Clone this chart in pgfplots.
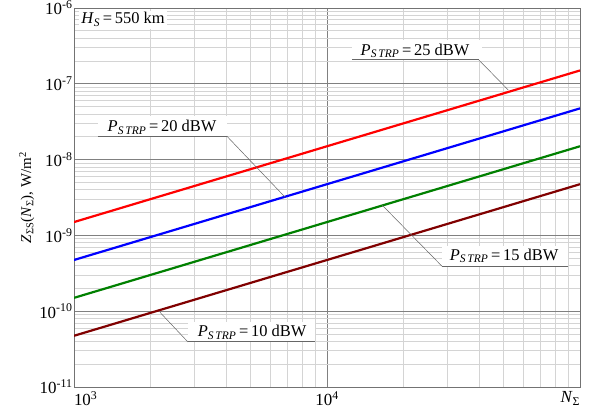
\documentclass[border=0pt]{standalone}
\usepackage{pgfplots}
\pgfplotsset{compat=1.18}
\usepackage{fontspec}
\setmainfont{Liberation Serif}
\definecolor{cred}{RGB}{255,0,0}
\definecolor{cblue}{RGB}{0,0,255}
\definecolor{cgreen}{RGB}{0,128,0}
\definecolor{cdred}{RGB}{128,0,0}
\newcommand{\PS}{\textit{P}\textsubscript{\textit{S\,TRP}}\,=\,}
\begin{document}
\begin{tikzpicture}
\begin{axis}[
  at={(0,0)}, anchor=south west,
  scale only axis, width=506bp, height=379bp,
  xmode=log, ymode=log,
  xmin=1e3, xmax=1e5, ymin=1e-11, ymax=1e-6,
  xtick={1e3,1e4,1e5},
  xticklabels={\makebox[0pt][l]{10\textsuperscript{3}},10\textsuperscript{4},\makebox[0pt][r]{\textit{N}\textsubscript{Σ}}},
  ytick={1e-11,1e-10,1e-9,1e-8,1e-7,1e-6},
  yticklabels={10\textsuperscript{-11},10\textsuperscript{-10},10\textsuperscript{-9},10\textsuperscript{-8},10\textsuperscript{-7},10\textsuperscript{-6}},
  minor xtick={2000,3000,4000,5000,6000,7000,8000,9000,20000,30000,40000,50000,60000,70000,80000,90000},
  minor ytick={2e-11,3e-11,4e-11,5e-11,6e-11,7e-11,8e-11,9e-11,
               2e-10,3e-10,4e-10,5e-10,6e-10,7e-10,8e-10,9e-10,
               2e-9,3e-9,4e-9,5e-9,6e-9,7e-9,8e-9,9e-9,
               2e-8,3e-8,4e-8,5e-8,6e-8,7e-8,8e-8,9e-8,
               2e-7,3e-7,4e-7,5e-7,6e-7,7e-7,8e-7,9e-7},
  grid=both,
  major grid style={draw=black!50, line width=0.8bp},
  minor grid style={draw=black!17, line width=0.8bp},
  axis line style={draw=black!55, line width=0.9bp},
  tick style={draw=none},
  xticklabel style={font=\fontsize{17}{19}\selectfont, yshift=-1bp},
  yticklabel style={font=\fontsize{17}{19}\selectfont, xshift=2bp},
  ylabel={\textit{Z}\textsubscript{ΣS}(\textit{N}\textsubscript{Σ}),\ W/m\textsuperscript{2}},
  ylabel style={font=\fontsize{15}{17}\selectfont, yshift=-2bp},
]
\addplot[cred, line width=2.2bp] coordinates {(1e3,1.5e-9) (1e4,1.5e-8) (1e5,1.5e-7)};
\addplot[cblue, line width=2.2bp] coordinates {(1e3,4.74e-10) (1e4,4.74e-9) (1e5,4.74e-8)};
\addplot[cgreen, line width=2.2bp] coordinates {(1e3,1.5e-10) (1e4,1.5e-9) (1e5,1.5e-8)};
\addplot[cdred, line width=2.2bp] coordinates {(1e3,4.74e-11) (1e4,4.74e-10) (1e5,4.74e-9)};
% H_S label
\node[fill=white, anchor=base west, inner sep=2bp, font=\fontsize{16.5}{18}\selectfont] at (rel axis cs:0.010,0.958) {\textit{H}\textsubscript{\textit{S}}\,=\,550 km};
% 25 dBW
\fill[white] (rel axis cs:0.549,0.863) rectangle (rel axis cs:0.806,0.916);
\node[anchor=base, inner sep=0pt, font=\fontsize{16.5}{18}\selectfont] at (rel axis cs:0.674,0.876) {\PS 25 dBW};
\draw[black!60, line width=0.9bp] (rel axis cs:0.549,0.863) -- (rel axis cs:0.800,0.863);
\draw[black!60, line width=0.5bp] (rel axis cs:0.800,0.863) -- (rel axis cs:0.858,0.784);
% 20 dBW
\fill[white] (rel axis cs:0.047,0.662) rectangle (rel axis cs:0.302,0.715);
\node[anchor=base, inner sep=0pt, font=\fontsize{16.5}{18}\selectfont] at (rel axis cs:0.174,0.673) {\PS 20 dBW};
\draw[black!60, line width=0.9bp] (rel axis cs:0.047,0.662) -- (rel axis cs:0.302,0.662);
\draw[black!60, line width=0.5bp] (rel axis cs:0.302,0.662) -- (rel axis cs:0.417,0.501);
% 15 dBW
\fill[white] (rel axis cs:0.727,0.319) rectangle (rel axis cs:0.976,0.372);
\node[anchor=base, inner sep=0pt, font=\fontsize{16.5}{18}\selectfont] at (rel axis cs:0.850,0.335) {\PS 15 dBW};
\draw[black!60, line width=0.9bp] (rel axis cs:0.727,0.319) -- (rel axis cs:0.976,0.319);
\draw[black!60, line width=0.5bp] (rel axis cs:0.727,0.319) -- (rel axis cs:0.609,0.480);
% 10 dBW
\fill[white] (rel axis cs:0.225,0.119) rectangle (rel axis cs:0.476,0.172);
\node[anchor=base, inner sep=0pt, font=\fontsize{16.5}{18}\selectfont] at (rel axis cs:0.352,0.133) {\PS 10 dBW};
\draw[black!60, line width=0.9bp] (rel axis cs:0.225,0.119) -- (rel axis cs:0.476,0.119);
\draw[black!60, line width=0.5bp] (rel axis cs:0.225,0.119) -- (rel axis cs:0.170,0.197);
\end{axis}
\pgfresetboundingbox
\path (-74bp,-23bp) rectangle (524bp,387bp);
\end{tikzpicture}
\end{document}
